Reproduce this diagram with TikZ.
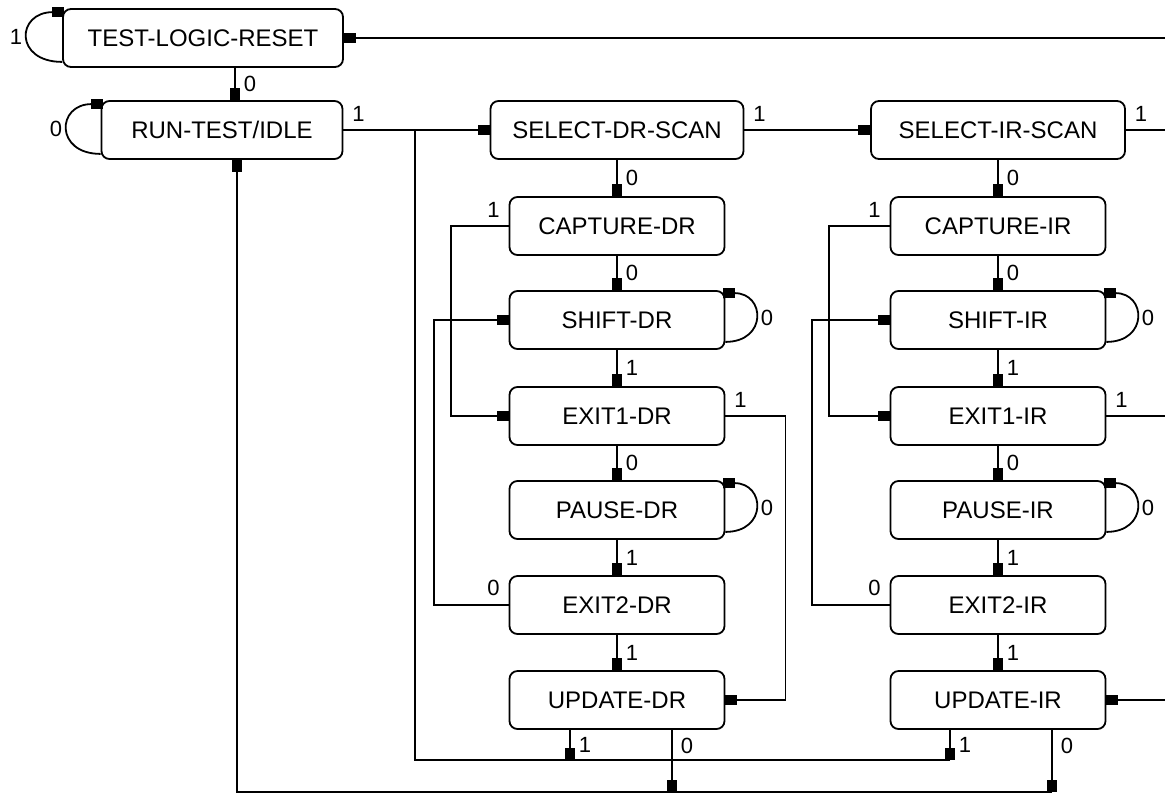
\documentclass[tikz,border=0pt]{standalone}
\usepackage{fontspec}
\setmainfont{Liberation Sans}
\usetikzlibrary{arrows.meta,calc,positioning}

\begin{document}
\begin{tikzpicture}[x=0.5pt,y=-0.5pt,line width=0.9pt,
	state/.style={draw,rounded corners=4pt,minimum width=107.5pt,minimum height=29pt,inner sep=0pt,font=\fontsize{12}{14}\selectfont},
	lbl/.style={inner sep=4pt,font=\fontsize{11}{12}\selectfont},
	arr/.style={-{Rectangle[length=6pt,width=5pt]}}]
					\path[use as bounding box] (0,0) rectangle (1165,793);
					\clip (0,0) rectangle (1165,793);

					\node (tlr) at (203,38) [state,minimum width=140pt] {TEST-LOGIC-RESET};
					\node (rti) at (222,130) [state,minimum width=120.5pt] {RUN-TEST/IDLE};

					\node (sdr) at (617,130) [state,minimum width=126.5pt] {SELECT-DR-SCAN};
					\node (cdr) at (617,226) [state] {CAPTURE-DR};
					\node (shdr) at (617,320) [state] {SHIFT-DR};
					\node (e1dr) at (617,416) [state] {EXIT1-DR};
					\node (pdr) at (617,510) [state] {PAUSE-DR};
					\node (e2dr) at (617,605) [state] {EXIT2-DR};
					\node (udr) at (617,700) [state] {UPDATE-DR};

					\node (sir) at (998,130) [state,minimum width=127pt] {SELECT-IR-SCAN};
					\node (cir) at (998,226) [state] {CAPTURE-IR};
					\node (shir) at (998,320) [state] {SHIFT-IR};
					\node (e1ir) at (998,416) [state] {EXIT1-IR};
					\node (pir) at (998,510) [state] {PAUSE-IR};
					\node (e2ir) at (998,605) [state] {EXIT2-IR};
					\node (uir) at (998,700) [state] {UPDATE-IR};

					\coordinate (jdr) at (415,130);
					\coordinate (rim) at (1190,0);
					\coordinate (udr1) at (570,760);
					\coordinate (udr0) at (672,792);
					\coordinate (uir1) at (950,760);
					\coordinate (uir0) at (1052,792);

					\draw[arr] ([shift={(0,-6)}]tlr.south west) .. controls +(-48,0) and +(-48,0) .. ([shift={(2,4)}]tlr.north west) node[lbl,pos=0.5,left,inner sep=2pt]{1};
					\draw[arr] ([shift={(0,-6)}]rti.south west) .. controls +(-46,0) and +(-46,0) .. ([shift={(2,4)}]rti.north west) node[lbl,pos=0.5,left,inner sep=2pt]{0};
					\draw[arr] ([shift={(32,0)}]tlr.south) -- ([shift={(13,0)}]rti.north) node[lbl,midway,right]{0};

					\draw[arr] (rti.east) node[lbl,above right]{1} -- (sdr.west);
					\draw[arr] (sdr.east) node[lbl,above right]{1} -- (sir.west);
					\draw[arr] (sir.east) node[lbl,above right]{1} -- (sir.east -| rim) |- (tlr.east);

					\draw[arr] (sdr) -- (cdr) node[lbl,midway,right]{0};
					\draw[arr] (cdr) -- (shdr) node[lbl,midway,right]{0};
					\draw[arr] (shdr) -- (e1dr) node[lbl,midway,right]{1};
					\draw[arr] (e1dr) -- (pdr) node[lbl,midway,right]{0};
					\draw[arr] (pdr) -- (e2dr) node[lbl,midway,right]{1};
					\draw[arr] (e2dr) -- (udr) node[lbl,midway,right]{1};

					\draw[arr] (sir) -- (cir) node[lbl,midway,right]{0};
					\draw[arr] (cir) -- (shir) node[lbl,midway,right]{0};
					\draw[arr] (shir) -- (e1ir) node[lbl,midway,right]{1};
					\draw[arr] (e1ir) -- (pir) node[lbl,midway,right]{0};
					\draw[arr] (pir) -- (e2ir) node[lbl,midway,right]{1};
					\draw[arr] (e2ir) -- (uir) node[lbl,midway,right]{1};

					\draw[arr] ([shift={(0,-8)}]shdr.south east) .. controls +(42,0) and +(42,0) .. ([shift={(-2,3)}]shdr.north east) node[lbl,pos=0.5,right,inner sep=2pt]{0};
					\draw[arr] ([shift={(0,-8)}]pdr.south east) .. controls +(42,0) and +(42,0) .. ([shift={(-2,3)}]pdr.north east) node[lbl,pos=0.5,right,inner sep=2pt]{0};
					\draw[arr] ([shift={(0,-8)}]shir.south east) .. controls +(42,0) and +(42,0) .. ([shift={(-2,3)}]shir.north east) node[lbl,pos=0.5,right,inner sep=2pt]{0};
					\draw[arr] ([shift={(0,-8)}]pir.south east) .. controls +(42,0) and +(42,0) .. ([shift={(-2,3)}]pir.north east) node[lbl,pos=0.5,right,inner sep=2pt]{0};

					\draw[arr] (cdr.west) node[lbl,above left]{1} -- ++(-58,0) |- (e1dr.west);
					\draw[arr] (e2dr.west) node[lbl,above left]{0} -- ++(-75,0) |- (shdr.west);
					\draw[arr] (e1dr.east) node[lbl,above right]{1} -- ++(60,0) |- (udr.east);

					\draw[arr] (cir.west) node[lbl,above left]{1} -- ++(-61,0) |- (e1ir.west);
					\draw[arr] (e2ir.west) node[lbl,above left]{0} -- ++(-78,0) |- (shir.west);
					\draw[arr] (e1ir.east) node[lbl,above right]{1} -- (e1ir.east -| rim) |- (uir.east);

					\draw[arr] (udr.south -| udr1) -- (udr1) node[lbl,midway,right]{1};
					\draw[arr] (uir.south -| uir1) -- (uir1) node[lbl,midway,right]{1};
					\draw (uir1) -| (jdr);
					\draw[arr] (udr.south -| udr0) -- (udr0) node[lbl,pos=0.25,right]{0};
					\draw[arr] (uir.south -| uir0) -- (uir0) node[lbl,pos=0.25,right]{0};
					\draw[arr] (uir0) -| ([shift={(15,0)}]rti.south);
				\end{tikzpicture}
\end{document}
